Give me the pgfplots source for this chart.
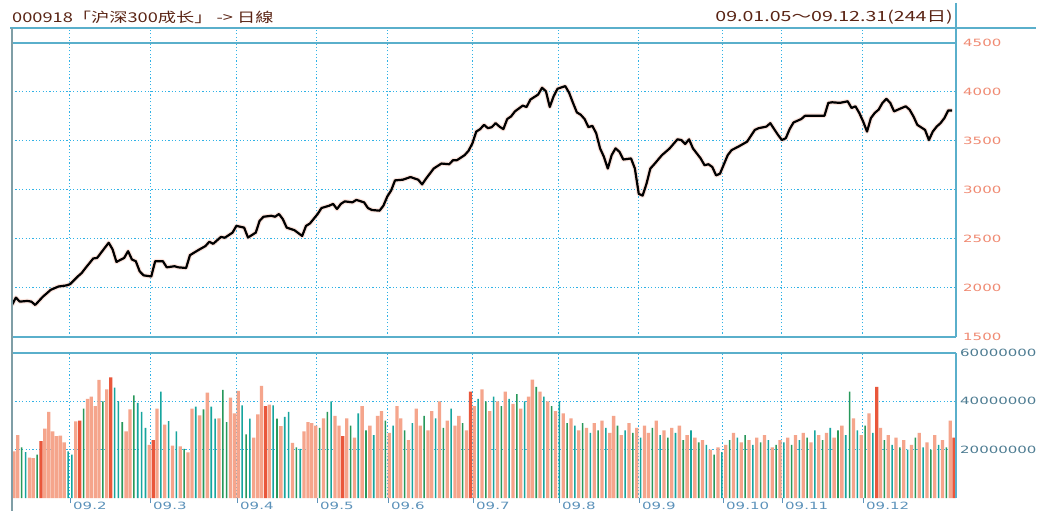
\documentclass[border=0pt]{standalone}
\usepackage{fontspec}
\setmainfont{DejaVu Sans}
\newfontfamily\cjk{Noto Sans CJK SC}
\usepackage{graphicx}
\usepackage{pgfplots}
\pgfplotsset{compat=1.18}
\definecolor{framec}{HTML}{5AAFCB}
\definecolor{leftc}{HTML}{7F9EA6}
\definecolor{gridc}{HTML}{2FB2E6}
\definecolor{salmon}{HTML}{F5A58C}
\definecolor{redbar}{HTML}{E9573B}
\definecolor{greenbar}{HTML}{27985A}
\definecolor{tealbar}{HTML}{16A59E}
\definecolor{pricelab}{HTML}{F08A72}
\definecolor{vollab}{HTML}{4D7C92}
\definecolor{xlab}{HTML}{5C92BA}
\definecolor{hdr}{HTML}{5A2414}
\newcommand{\wide}[1]{\scalebox{1.5}[1]{#1}}
\begin{document}
\begin{tikzpicture}
\fill[white] (0pt,0pt) rectangle (1037pt,512pt);
\node[anchor=west, text=hdr, inner sep=0] at (12pt,495pt) {\scalebox{1.35}[1]{\fontsize{13.5}{13.5}\cjk 000918「沪深300成长」 -> 日線}};
\node[anchor=east, text=hdr, inner sep=0] at (953pt,495pt) {\scalebox{1.4}[1]{\fontsize{14}{14}\cjk 09.01.05～09.12.31(244日)}};

% price panel
\begin{axis}[at={(12pt,175pt)}, anchor=south west, width=944pt, height=309pt, scale only axis,
  xmin=0, xmax=244, ymin=1500, ymax=4653,
  axis line style={draw=none},
  xtick={14.99,35.67,58.15,78.83,97.18,119.15,141.38,162.06,183.77,199.02,219.96},
  xticklabels={},
  ytick={1500,2000,2500,3000,3500,4000,4500},
  yticklabels={\wide{1500},\wide{2000},\wide{2500},\wide{3000},\wide{3500},\wide{4000},\wide{4500}},
  yticklabel pos=right,
  major tick length=0pt,
  xmajorgrids, ymajorgrids,
  grid style={gridc, line width=1pt, dash pattern=on 1.2pt off 2.2pt},
  yticklabel style={text=pricelab, font=\fontsize{10}{10}\selectfont, anchor=west, inner sep=0pt, xshift=7pt},
  /pgf/number format/assume math mode=true,
  clip=true]
\addplot[salmon!60, opacity=0.5, line width=4.5pt, line join=round] coordinates {
(0,1827)(1,1902)(2,1861)(4,1868)(5,1861)(6,1827)(8,1912)(9,1946)(10,1981)(12,2015)(14,2026)(15,2039)(17,2118)(18,2152)(19,2204)(21,2301)(22,2307)(23,2359)(25,2462)(26,2394)(27,2266)(29,2307)(30,2376)(31,2291)(32,2273)(33,2170)(34,2129)(36,2118)(37,2273)(39,2273)(40,2211)(42,2222)(43,2211)(45,2204)(46,2335)(48,2383)(50,2428)(51,2472)(52,2451)(54,2521)(55,2513)(57,2565)(58,2634)(60,2616)(61,2515)(63,2565)(64,2685)(65,2727)(67,2737)(68,2727)(69,2755)(70,2703)(71,2616)(73,2590)(75,2531)(76,2634)(77,2658)(79,2755)(80,2816)(82,2840)(83,2858)(84,2806)(85,2858)(86,2884)(88,2874)(89,2899)(91,2874)(92,2816)(93,2796)(95,2789)(96,2840)(97,2933)(98,2995)(99,3098)(101,3105)(103,3132)(105,3105)(106,3057)(107,3115)(108,3167)(109,3219)(111,3270)(113,3263)(114,3304)(115,3304)(117,3356)(118,3400)(119,3476)(120,3596)(121,3621)(122,3665)(123,3631)(124,3641)(125,3682)(126,3647)(127,3621)(128,3724)(129,3751)(130,3802)(132,3861)(133,3847)(134,3923)(136,3974)(137,4043)(138,4008)(139,3847)(140,3957)(141,4033)(143,4060)(144,3992)(145,3889)(146,3792)(147,3768)(148,3724)(149,3641)(150,3655)(151,3579)(152,3425)(153,3338)(154,3219)(155,3356)(156,3425)(157,3390)(158,3311)(160,3322)(161,3219)(162,2961)(163,2943)(164,3064)(165,3219)(166,3263)(168,3356)(169,3390)(170,3425)(172,3517)(173,3510)(174,3469)(175,3517)(176,3425)(178,3322)(179,3253)(180,3263)(181,3235)(182,3149)(183,3167)(185,3356)(186,3407)(188,3448)(190,3493)(192,3613)(193,3631)(195,3647)(196,3682)(197,3621)(198,3562)(199,3510)(200,3528)(201,3621)(202,3689)(204,3724)(205,3758)(208,3758)(210,3758)(211,3889)(212,3895)(214,3889)(216,3905)(217,3837)(218,3854)(219,3786)(220,3699)(221,3596)(222,3734)(223,3786)(224,3820)(225,3889)(226,3930)(227,3889)(228,3802)(229,3820)(231,3854)(232,3820)(233,3751)(234,3665)(236,3613)(237,3510)(238,3596)(239,3647)(240,3682)(241,3734)(242,3812)(243,3812)};
\addplot[black, line width=2.2pt, line join=round] coordinates {
(0,1827)(1,1902)(2,1861)(4,1868)(5,1861)(6,1827)(8,1912)(9,1946)(10,1981)(12,2015)(14,2026)(15,2039)(17,2118)(18,2152)(19,2204)(21,2301)(22,2307)(23,2359)(25,2462)(26,2394)(27,2266)(29,2307)(30,2376)(31,2291)(32,2273)(33,2170)(34,2129)(36,2118)(37,2273)(39,2273)(40,2211)(42,2222)(43,2211)(45,2204)(46,2335)(48,2383)(50,2428)(51,2472)(52,2451)(54,2521)(55,2513)(57,2565)(58,2634)(60,2616)(61,2515)(63,2565)(64,2685)(65,2727)(67,2737)(68,2727)(69,2755)(70,2703)(71,2616)(73,2590)(75,2531)(76,2634)(77,2658)(79,2755)(80,2816)(82,2840)(83,2858)(84,2806)(85,2858)(86,2884)(88,2874)(89,2899)(91,2874)(92,2816)(93,2796)(95,2789)(96,2840)(97,2933)(98,2995)(99,3098)(101,3105)(103,3132)(105,3105)(106,3057)(107,3115)(108,3167)(109,3219)(111,3270)(113,3263)(114,3304)(115,3304)(117,3356)(118,3400)(119,3476)(120,3596)(121,3621)(122,3665)(123,3631)(124,3641)(125,3682)(126,3647)(127,3621)(128,3724)(129,3751)(130,3802)(132,3861)(133,3847)(134,3923)(136,3974)(137,4043)(138,4008)(139,3847)(140,3957)(141,4033)(143,4060)(144,3992)(145,3889)(146,3792)(147,3768)(148,3724)(149,3641)(150,3655)(151,3579)(152,3425)(153,3338)(154,3219)(155,3356)(156,3425)(157,3390)(158,3311)(160,3322)(161,3219)(162,2961)(163,2943)(164,3064)(165,3219)(166,3263)(168,3356)(169,3390)(170,3425)(172,3517)(173,3510)(174,3469)(175,3517)(176,3425)(178,3322)(179,3253)(180,3263)(181,3235)(182,3149)(183,3167)(185,3356)(186,3407)(188,3448)(190,3493)(192,3613)(193,3631)(195,3647)(196,3682)(197,3621)(198,3562)(199,3510)(200,3528)(201,3621)(202,3689)(204,3724)(205,3758)(208,3758)(210,3758)(211,3889)(212,3895)(214,3889)(216,3905)(217,3837)(218,3854)(219,3786)(220,3699)(221,3596)(222,3734)(223,3786)(224,3820)(225,3889)(226,3930)(227,3889)(228,3802)(229,3820)(231,3854)(232,3820)(233,3751)(234,3665)(236,3613)(237,3510)(238,3596)(239,3647)(240,3682)(241,3734)(242,3812)(243,3812)};
\end{axis}

% volume panel
\begin{axis}[at={(12pt,14pt)}, anchor=south west, width=944pt, height=145pt, scale only axis,
  xmin=-0.5, xmax=243.5, ymin=0, ymax=60,
  axis line style={draw=none},
  xtick={14.49,35.17,57.65,78.33,96.68,118.65,140.88,161.56,183.27,198.52,219.46},
  xticklabels={\wide{09.2},\wide{09.3},\wide{09.4},\wide{09.5},\wide{09.6},\wide{09.7},\wide{09.8},\wide{09.9},\wide{09.10},\wide{09.11},\wide{09.12}},
  xtick pos=bottom, xtick align=outside,
  ytick={20,40,60},
  yticklabels={\wide{20000000},\wide{40000000},\wide{60000000}},
  yticklabel pos=right, ytick style={draw=none},
  major tick length=5pt,
  xtick style={xlab, line width=0.8pt},
  xmajorgrids, ymajorgrids,
  grid style={gridc, line width=1pt, dash pattern=on 1.2pt off 2.2pt},
  yticklabel style={text=vollab, font=\fontsize{10}{10}\selectfont, anchor=west, inner sep=0pt, xshift=4pt},
  xticklabel style={text=xlab, font=\fontsize{10}{10}\selectfont, anchor=north west, inner sep=0pt, xshift=3pt, yshift=1pt},
  /pgf/number format/assume math mode=true,
  clip=true]
\addplot[ybar, bar width=0.85, bar shift=0pt, fill=salmon, draw=none] coordinates {
(0,19.3)(1,26)(4,16.7)(5,16.5)(8,28.7)(9,35.6)(10,27.6)(11,25.6)(12,25.8)(13,23)(16,31.7)(19,41)(20,42)(21,38)(22,48.9)(24,45)(29,27.6)(30,36.7)(35,22)(37,37)(39,30.4)(41,21.7)(43,21.4)(45,18.9)(46,37)(48,34.2)(50,43.6)(53,33)(56,41.5)(57,35)(58,44.3)(62,25)(63,34.6)(64,46.4)(66,38.6)(69,29.7)(72,22.8)(75,27.6)(76,31.4)(77,31)(78,30)(80,33)(83,34)(84,30)
(86,33)(88,25)(90,38)(92,30)(94,34)(95,36)(97,27)(99,38)(100,33)(102,24)(104,37)(105,30)(107,28)(108,36)(110,40)(112,32)(114,30)(115,34)(117,28)(119,38)(121,45)(123,36)(125,40)(127,44)(129,39)(131,37)(133,42)(134,49)(136,44)(138,40)(140,36)(142,35)(144,33)(146,28)(148,29)(150,31)(152,32)(154,27)(155,34)(157,26)(159,31)(161,29)(163,30)(164,27)(166,32)(168,28)(170,29)(172,30)(174,26)(176,25)(178,24)(180,20)(182,21)(184,22)(186,27)(188,23)(190,24)(192,25)(194,26)(196,21)(198,24)(200,25)(202,26)(204,27)(206,23)(208,26)(210,27)(212,25)(214,30)(217,33)(219,26)(221,35)(224,29)(226,26)(228,25)(230,24)(232,22)(234,27)(236,23)(238,26)(240,24)(242,32)};
\addplot[ybar, bar width=0.85, bar shift=0pt, fill=redbar, draw=none] coordinates {
(7,23.5)(17,32)(25,49.9)(36,24)(65,38)(85,25.6)(118,44)(223,46)(243,25)};
\addplot[ybar, bar width=0.4, bar shift=0pt, fill=greenbar, draw=none] coordinates {
(2,21)(6,18)(18,37)(23,40)(28,31.4)(31,42.5)(44,20.3)(49,36.7)(54,44.7)(55,31.4)(60,26.3)(68,32.8)(73,21)(79,29)(81,35.6)
(87,30)(91,28)(96,32)(101,28)(106,34)(111,29)(116,31)(122,40)(126,38)(130,43)(135,46)(139,38)(143,31)(147,31)(151,28)(156,30)(160,27)(165,29)(169,25)(173,24)(177,23)(181,18)(185,24)(189,26)(193,23)(197,22)(201,22)(205,25)(209,24)(213,28)(216,44)(220,30)(225,24)(229,21)(233,25)(237,20)(241,21)};
\addplot[ybar, bar width=0.4, bar shift=0pt, fill=tealbar, draw=none] coordinates {
(3,19)(14,19.3)(15,18)(26,45.7)(27,40)(32,39.4)(33,35.6)(34,29)(38,44)(40,31.8)(42,27.6)(47,37.8)(51,37.8)(52,32.8)(59,38.3)(61,32.8)(67,38.3)(70,33.6)(71,35.6)(74,20.3)(82,40)
(89,35)(93,26)(98,30)(103,31)(109,33)(113,37)(120,41)(124,42)(128,41)(132,40)(137,42)(141,40)(145,30)(149,27)(153,29)(158,28)(162,25)(167,26)(171,27)(175,28)(179,22)(183,19)(187,25)(191,22)(195,24)(199,23)(203,24)(207,28)(211,29)(215,26)(218,28)(222,27)(227,22)(231,20)(235,21)(239,22)};
\end{axis}

% frame lines
\draw[framec, line width=1.2pt] (10pt,484pt) -- (1036pt,484pt);
\draw[framec, line width=1.2pt] (12pt,469pt) -- (956pt,469pt);
\draw[framec, line width=1.2pt] (12pt,175pt) -- (956pt,175pt);
\draw[framec, line width=1.2pt] (12pt,159pt) -- (956pt,159pt);
\draw[framec, line width=1.2pt] (956pt,509pt) -- (956pt,175pt);
\draw[framec, line width=1.2pt] (956pt,159pt) -- (956pt,14pt);
\draw[leftc, line width=2.5pt] (12pt,484pt) -- (12pt,1pt);
\end{tikzpicture}
\end{document}
